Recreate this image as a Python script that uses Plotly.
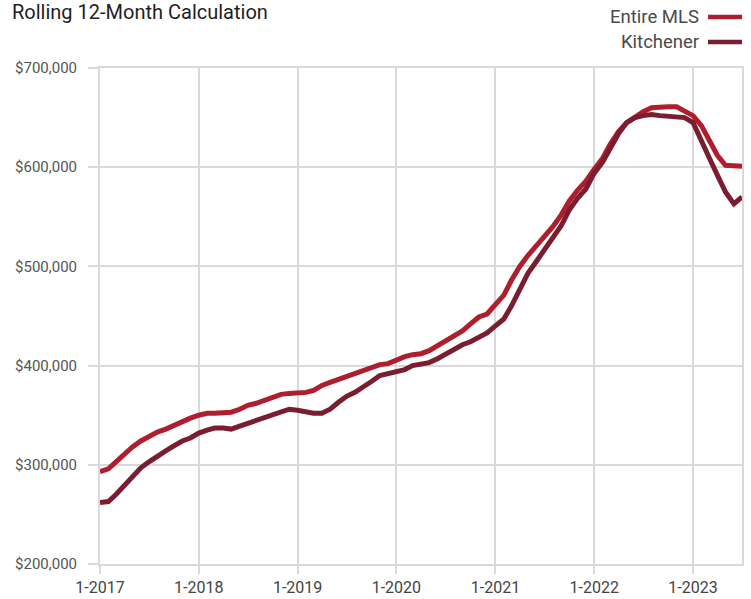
import plotly.graph_objects as go

# ---- data (rolling 12-month average price, thousands of dollars) ----
months = [f"{2017 + m // 12}-{m % 12 + 1:02d}-01" for m in range(79)]

entire_mls = [
    293, 296, 303, 311, 318, 324, 329, 333, 336, 340, 343, 347,   # 2017
    350, 352, 352, 352, 353, 356, 360, 362, 365, 368, 371, 372,   # 2018
    372, 373, 375, 380, 383, 386, 389, 391, 394, 397, 401, 402,   # 2019
    406, 409, 411, 412, 415, 420, 425, 430, 435, 442, 449, 452,   # 2020
    461, 471, 486, 500, 511, 521, 531, 540, 552, 566, 577, 586,   # 2021
    598, 609, 623, 636, 645, 651, 656, 660, 661, 661, 661, 657,   # 2022
    652, 642, 627, 612, 602, 601, 601,                            # 2023
]
kitchener = [
    262, 263, 270, 279, 288, 297, 303, 309, 314, 319, 324, 327,   # 2017
    332, 335, 337, 337, 336, 339, 342, 345, 348, 350, 353, 356,   # 2018
    355, 353, 352, 352, 356, 363, 369, 373, 378, 384, 390, 392,   # 2019
    393, 396, 400, 402, 403, 407, 412, 417, 421, 424, 429, 433,   # 2020
    440, 447, 460, 476, 493, 505, 517, 528, 541, 557, 569, 578,   # 2021
    594, 605, 620, 634, 645, 650, 652, 653, 652, 651, 651, 650,   # 2022
    645, 628, 610, 592, 575, 563, 570,                            # 2023
]
entire_mls = [v * 1000 for v in entire_mls]
kitchener = [v * 1000 for v in kitchener]

x_tick_vals = [f"{y}-01-01" for y in range(2017, 2024)]
x_tick_text = [f"1-{y}" for y in range(2017, 2024)]
y_tick_vals = [200000, 300000, 400000, 500000, 600000, 700000]
y_tick_text = ["$200,000", "$300,000", "$400,000", "$500,000", "$600,000", "$700,000"]

series_names = ["Entire MLS", "Kitchener"]
series_colors = ["#AF1E2D", "#7A1D2F"]

FONT = "Roboto, Liberation Sans, sans-serif"
GRID = "#D9D9D9"

fig = go.Figure()
for name, vals, col in zip(series_names, [entire_mls, kitchener], series_colors):
    fig.add_trace(go.Scatter(x=months, y=vals, mode="lines", name=name,
                             line=dict(color=col, width=5), showlegend=False))

W, H = 751, 599
ml, mr, mt, mb = 100, 9, 68, 35
pw, ph = W - ml - mr, H - mt - mb

fig.update_layout(
    width=W, height=H,
    margin=dict(l=ml, r=mr, t=mt, b=mb, autoexpand=False),
    paper_bgcolor="white", plot_bgcolor="white",
    font=dict(family=FONT, color="#555555", size=16),
    title=dict(text="Rolling 12-Month Calculation", x=12 / W, xanchor="left",
               xref="container", y=1 - 12 / H, yanchor="middle", yref="container",
               font=dict(family=FONT, size=20, color="#1E1E1E")),
    xaxis=dict(range=["2017-01-01", "2023-07-01"], tickvals=x_tick_vals, ticktext=x_tick_text,
               automargin=False,
               showgrid=True, gridcolor=GRID, gridwidth=2, zeroline=False,
               ticks="outside", ticklen=8, tickwidth=2, tickcolor=GRID,
               showline=True, mirror=True, linecolor=GRID, linewidth=2,
               tickfont=dict(size=16, color="#444444")),
    yaxis=dict(range=[200000, 700000], tickvals=y_tick_vals, ticktext=y_tick_text,
               automargin=False, ticklabelstandoff=8,
               showgrid=True, gridcolor=GRID, gridwidth=2, zeroline=False,
               ticks="outside", ticklen=10, tickwidth=2, tickcolor=GRID,
               showline=True, mirror=True, linecolor=GRID, linewidth=2,
               tickfont=dict(size=15, color="#555555")),
)

# legend on the right: text then line sample
leg_y = [17, 42]
for name, col, yy in zip(series_names, series_colors, leg_y):
    yp = 1 + (mt - yy) / ph
    fig.add_annotation(text=name, xref="paper", yref="paper",
                       x=(701 - ml) / pw, y=yp, xanchor="right", yanchor="middle",
                       showarrow=False, font=dict(family=FONT, size=18.5, color="#4A4A4A"))
    fig.add_shape(type="line", xref="paper", yref="paper",
                  x0=(708 - ml) / pw, x1=(742 - ml) / pw, y0=yp, y1=yp,
                  line=dict(color=col, width=4.5))

fig.write_html("out.html", config={"displayModeBar": False},
               post_script="document.body.style.margin='0px';")
